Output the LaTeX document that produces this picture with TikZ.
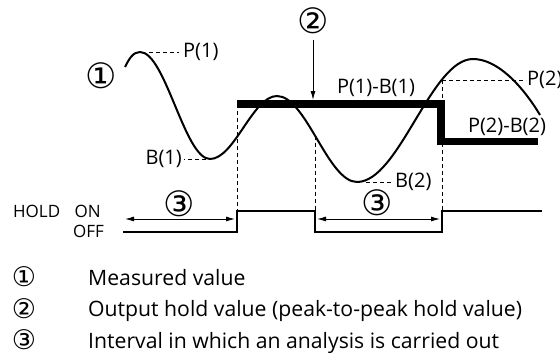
\documentclass[tikz,border=0pt]{standalone}
\usepackage{fontspec}
\setmainfont{Open Sans}
\newfontfamily\circfont{DejaVu Sans}
\usetikzlibrary{arrows.meta}
\begin{document}
\begin{tikzpicture}[x=1pt,y=-1pt,
  lbl/.style={inner sep=0pt, font=\fontsize{20}{20}\selectfont},
  sigtext/.style={inner sep=0pt, font=\fontsize{17}{17}\selectfont},
  circ/.style={inner sep=0pt, font=\circfont\fontsize{35}{35}\selectfont},
  lcirc/.style={inner sep=0pt, font=\circfont\fontsize{27}{27}\selectfont},
  legend/.style={inner sep=0pt, anchor=base west, font=\fontsize{21.2}{21.2}\selectfont},
  meas/.style={line width=2pt},
  holdline/.style={line width=7.5pt, line join=miter},
  guide/.style={line width=0.8pt, dash pattern=on 4pt off 3pt},
  sig/.style={line width=1.6pt},
  dimarrow/.style={line width=1pt, {Latex[length=9pt,width=5pt]}-{Latex[length=9pt,width=5pt]}},
]
\useasboundingbox (0,0) rectangle (560,364);
% measured value curve
\coordinate (s) at (125,67);
\coordinate (p1) at (140,52);
\coordinate (b1) at (210,159);
\coordinate (q) at (277,96);
\coordinate (b2) at (357,182);
\coordinate (p2) at (473,59);
\coordinate (e) at (540,115);
\draw[meas] (s) .. controls (129,59) and (133,52) .. (p1)
  .. controls (165.4,52) and (184.6,159) .. (b1)
  .. controls (234.4,159) and (252.6,96) .. (q)
  .. controls (306,96) and (328,182) .. (b2)
  .. controls (399,182) and (431,59) .. (p2)
  .. controls (497,59) and (522,85) .. (e);
% hold value
\coordinate (h0) at (237,104);
\coordinate (h1) at (441,104);
\coordinate (h2) at (441,141.5);
\coordinate (h3) at (538,141.5);
\draw[holdline] (h0) -- (h1) -- (h2) -- (h3);
% guides
\coordinate (g1t) at (237,104);
\coordinate (g1b) at (237,210);
\coordinate (g2t) at (315,135.6);
\coordinate (g2b) at (315,210);
\coordinate (g3t) at (442,80);
\coordinate (g3b) at (442,210);
\draw[guide] (g1t) -- (g1b);
\draw[guide] (g2t) -- (g2b);
\draw[guide] (g3t) -- (g3b);
% labels
\node[lbl, anchor=west] (lp1) at (183,52) {P(1)};
\node[lbl, anchor=east] (lb1) at (182,159) {B(1)};
\node[lbl, anchor=west] (lb2) at (395,182) {B(2)};
\node[lbl, anchor=west] (lp2) at (527,80) {P(2)};
\node[lbl] (lpb1) at (376,88) {P(1)-B(1)};
\node[lbl] (lpb2) at (507,127) {P(2)-B(2)};
\draw[guide, shorten <=9pt, shorten >=4pt] (p1) -- (lp1.west);
\draw[guide, shorten <=4pt, shorten >=2pt] (b1) -- (lb1.east);
\draw[guide, shorten <=9pt, shorten >=2pt] (b2) -- (lb2.west);
\draw[guide, shorten >=1pt] (g3t) -- (lp2.west);
% circled markers
\node[circ] (c1) at (101,76) {①};
\node[circ] (c2) at (313,21) {②};
\node[circ] (c3a) at (179,204) {③};
\node[circ] (c3b) at (377,203) {③};
\coordinate (arrtop) at (313,40);
\coordinate (arrtip) at (313,100);
\draw[line width=1pt, -{Latex[length=9pt,width=5pt]}] (arrtop) -- (arrtip);
% hold signal
\node[sigtext, anchor=west] (thold) at (13,211) {HOLD};
\node[sigtext, anchor=east] (ton) at (101,211) {ON};
\node[sigtext, anchor=east] (toff) at (104,231) {OFF};
\coordinate (o0) at (123,232);
\coordinate (o1) at (237,232);
\coordinate (o2) at (237,211);
\coordinate (o3) at (315,211);
\coordinate (o4) at (315,232);
\coordinate (o5) at (442,232);
\coordinate (o6) at (442,211);
\coordinate (o7) at (542,211);
\draw[sig] (o0) -- (o1) -- (o2) -- (o3) -- (o4) -- (o5) -- (o6) -- (o7);
\coordinate (d1a) at (125,219);
\coordinate (d1b) at (235,219);
\coordinate (d2a) at (317,219);
\coordinate (d2b) at (440,219);
\draw[dimarrow] (d1a) -- (d1b);
\draw[dimarrow] (d2a) -- (d2b);
% legend
\node[lcirc] (k1) at (24,277) {①};
\node[lcirc] (k2) at (24,308.5) {②};
\node[lcirc] (k3) at (24,340) {③};
\node[legend] (t1) at (88,285) {Measured value};
\node[legend] (t2) at (88,316.5) {Output hold value (peak-to-peak hold value)};
\node[legend] (t3) at (88,348) {Interval in which an analysis is carried out};
\end{tikzpicture}
\end{document}
